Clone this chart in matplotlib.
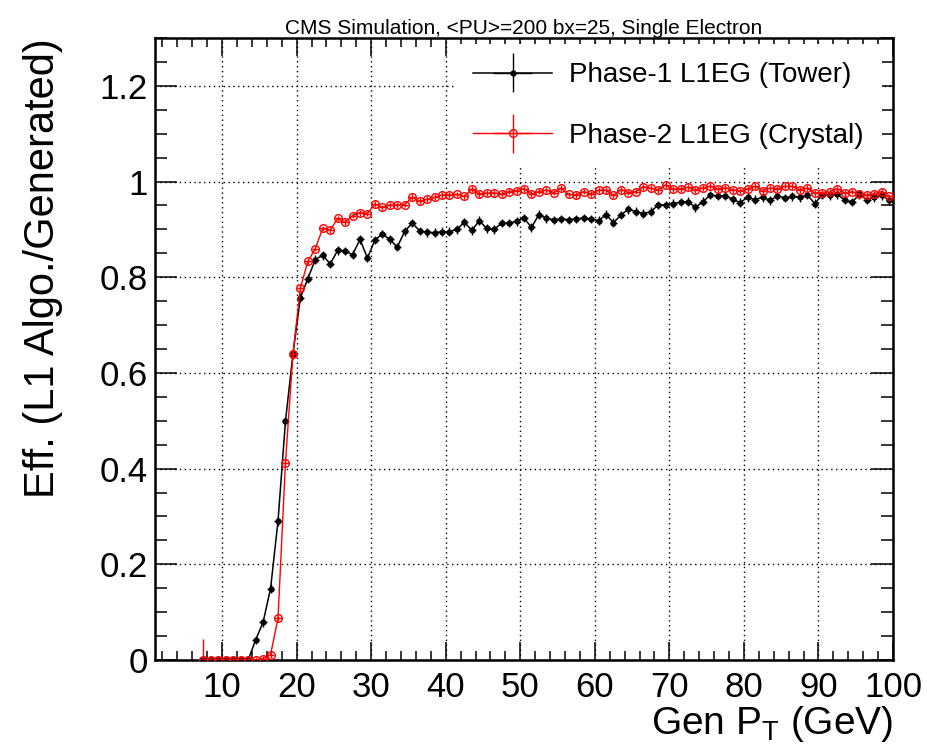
import numpy as np
import matplotlib
matplotlib.use('Agg')
import matplotlib.pyplot as plt
from matplotlib.legend_handler import HandlerErrorbar
from matplotlib.ticker import MultipleLocator, FormatStrFormatter

plt.rcParams['font.family'] = ['Liberation Sans', 'DejaVu Sans']
plt.rcParams['mathtext.fontset'] = 'custom'
plt.rcParams['mathtext.rm'] = 'Liberation Sans'
plt.rcParams['mathtext.it'] = 'Liberation Sans'

# bin centres, 1 GeV bins
pt = np.arange(7.5, 100.0, 1.0)

tower_eff = [0, 0, 0, 0, 0, 0, 0,
             0.042, 0.079, 0.149, 0.290, 0.499, 0.639, 0.757, 0.797, 0.837, 0.846,
             0.828, 0.856, 0.855, 0.847, 0.879, 0.840, 0.878, 0.890, 0.879, 0.863,
             0.896, 0.913, 0.897, 0.894, 0.893, 0.895, 0.895, 0.900, 0.915, 0.898,
             0.918, 0.902, 0.900, 0.913, 0.913, 0.917, 0.924, 0.904, 0.931, 0.923,
             0.920, 0.922, 0.920, 0.922, 0.924, 0.922, 0.918, 0.931, 0.914, 0.930,
             0.942, 0.937, 0.933, 0.937, 0.951, 0.951, 0.954, 0.957, 0.958, 0.946,
             0.958, 0.972, 0.970, 0.970, 0.963, 0.956, 0.967, 0.962, 0.967, 0.961,
             0.970, 0.966, 0.969, 0.967, 0.972, 0.954, 0.972, 0.971, 0.973, 0.962,
             0.957, 0.973, 0.962, 0.967, 0.971, 0.961]

crystal_eff = [0, 0, 0, 0, 0, 0, 0, 0,
               0.003, 0.011, 0.087, 0.412, 0.639, 0.777, 0.833, 0.860, 0.902,
               0.898, 0.923, 0.915, 0.929, 0.935, 0.933, 0.953, 0.946, 0.951, 0.951,
               0.952, 0.967, 0.959, 0.963, 0.967, 0.972, 0.972, 0.973, 0.969, 0.984,
               0.974, 0.976, 0.976, 0.974, 0.979, 0.981, 0.985, 0.974, 0.979, 0.982,
               0.977, 0.986, 0.973, 0.972, 0.979, 0.974, 0.982, 0.982, 0.971, 0.983,
               0.977, 0.979, 0.989, 0.986, 0.983, 0.993, 0.984, 0.985, 0.988, 0.983,
               0.987, 0.990, 0.985, 0.987, 0.983, 0.980, 0.985, 0.990, 0.981, 0.986,
               0.985, 0.990, 0.990, 0.983, 0.986, 0.976, 0.977, 0.978, 0.985, 0.976,
               0.979, 0.973, 0.972, 0.975, 0.979, 0.969]

tower_err = np.full(len(pt), 0.009)
crystal_err = np.full(len(pt), 0.006)
crystal_err[0] = 0.044

fig = plt.figure(figsize=(9.27, 7.44), dpi=100)
ax = fig.add_axes([155 / 927, 84 / 744, 738 / 927, 622 / 744])

ax.errorbar(pt, tower_eff, xerr=0.5, yerr=tower_err, fmt='-o', color='black',
            ms=3.5, lw=1.1, elinewidth=1.0, label='Phase-1 L1EG (Tower)', zorder=3)
ax.errorbar(pt, crystal_eff, xerr=0.5, yerr=crystal_err, fmt='-o', color='red',
            mfc='none', mec='red', mew=1.0, ms=5.5, lw=1.0, elinewidth=1.0,
            label='Phase-2 L1EG (Crystal)', zorder=4)

ax.set_xlim(1, 100)
ax.set_ylim(0, 1.3)
ax.xaxis.set_major_locator(MultipleLocator(10))
ax.xaxis.set_minor_locator(MultipleLocator(2))
ax.yaxis.set_major_locator(MultipleLocator(0.2))
ax.yaxis.set_minor_locator(MultipleLocator(0.05))
ax.yaxis.set_major_formatter(FormatStrFormatter('%g'))

ax.tick_params(which='both', direction='in', top=True, right=True, width=1.1)
ax.tick_params(axis='x', which='major', length=13, labelsize=25, pad=8)
ax.tick_params(axis='x', which='minor', length=6.5)
ax.tick_params(axis='y', which='major', length=16, labelsize=25, pad=5)
ax.tick_params(axis='y', which='minor', length=8.5)
for s in ax.spines.values():
    s.set_linewidth(1.8)

ax.grid(True, which='major', color='black', linestyle=(0, (1, 2.5)), linewidth=1.0)

ax.set_xlabel('Gen P$_\\mathrm{T}$ (GeV)', fontsize=28, loc='right')
ax.xaxis.set_label_coords(1.0, -0.07)
ax.set_ylabel('Eff. (L1 Algo./Generated)', fontsize=30, loc='top')
ax.yaxis.set_label_coords(-0.124, 1.0)

ax.set_title('CMS Simulation, <PU>=200 bx=25, Single Electron', fontsize=15, pad=3)

leg = ax.legend(loc='upper left', bbox_to_anchor=(0.4065, 0.99), borderaxespad=0,
                fontsize=20, handlelength=2.85, handletextpad=0.6, labelspacing=1.25,
                borderpad=0.65, fancybox=False, edgecolor='none', facecolor='white',
                framealpha=1.0,
                handler_map={type(ax.containers[0]): HandlerErrorbar(xerr_size=0.7)})
leg.set_zorder(10)

fig.savefig('out.png', dpi=100)
